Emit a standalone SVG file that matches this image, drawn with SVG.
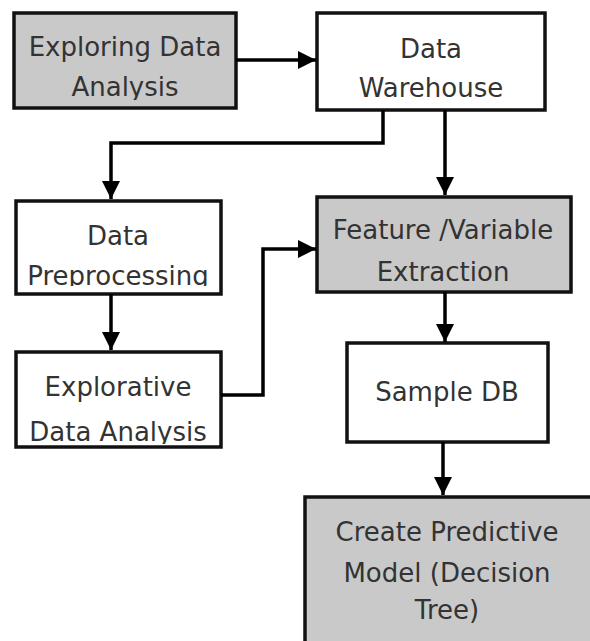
<svg xmlns="http://www.w3.org/2000/svg" width="590" height="641" viewBox="0 0 590 641">
<style>
.box{stroke:#111;stroke-width:3.5;}
.gray{fill:#c9c9c9;}
.white{fill:#fff;}
.t{font-family:"DejaVu Sans","Liberation Sans",sans-serif;font-size:26px;fill:#333;text-anchor:middle;}
.c{fill:none;stroke:#000;stroke-width:3.5;}
</style>
<defs>
<marker id="ah" markerUnits="userSpaceOnUse" markerWidth="20" markerHeight="20" refX="18" refY="9" orient="auto">
<path d="M0,0 L18,9 L0,18 Z" fill="#000"/>
</marker>
<clipPath id="c1"><rect x="0" y="0" width="590" height="100"/></clipPath>
<clipPath id="c3"><rect x="0" y="180" width="590" height="106"/></clipPath>
<clipPath id="c5"><rect x="0" y="340" width="590" height="104"/></clipPath>
</defs>
<rect width="590" height="641" fill="#fff"/>
<g id="n1">
<rect class="box gray" x="14" y="13" width="222" height="95"/>
<text class="t" x="125" y="56">Exploring Data</text>
<text class="t" x="125" y="96" clip-path="url(#c1)">Analysis</text>
</g>
<g id="n2">
<rect class="box white" x="317" y="13" width="228" height="97"/>
<text class="t" x="431" y="58">Data</text>
<text class="t" x="431" y="97">Warehouse</text>
</g>
<g id="n3">
<rect class="box white" x="16" y="201" width="205" height="93"/>
<text class="t" x="118" y="245">Data</text>
<text class="t" x="118" y="285" clip-path="url(#c3)">Preprocessing</text>
</g>
<g id="n4">
<rect class="box gray" x="317" y="197" width="254" height="95"/>
<text class="t" x="443" y="239">Feature /Variable</text>
<text class="t" x="443" y="281">Extraction</text>
</g>
<g id="n5">
<rect class="box white" x="16" y="352" width="205" height="95"/>
<text class="t" x="118" y="396">Explorative</text>
<text class="t" x="118" y="441" clip-path="url(#c5)">Data Analysis</text>
</g>
<g id="n6">
<rect class="box white" x="347" y="343" width="201" height="99"/>
<text class="t" x="447" y="401">Sample DB</text>
</g>
<g id="n7">
<rect class="box gray" x="305" y="497" width="290" height="160"/>
<text class="t" x="447" y="541">Create Predictive</text>
<text class="t" x="447" y="582">Model (Decision</text>
<text class="t" x="447" y="619">Tree)</text>
</g>
<g id="connectors">
<path class="c" d="M236,60 L316,60" marker-end="url(#ah)"/>
<path class="c" d="M383,110 L383,143 L111,143 L111,199" marker-end="url(#ah)"/>
<path class="c" d="M445,110 L445,195" marker-end="url(#ah)"/>
<path class="c" d="M111,294 L111,350" marker-end="url(#ah)"/>
<path class="c" d="M221,395 L263,395 L263,249 L316,249" marker-end="url(#ah)"/>
<path class="c" d="M445,292 L445,342" marker-end="url(#ah)"/>
<path class="c" d="M443,442 L443,495" marker-end="url(#ah)"/>
</g>
</svg>
